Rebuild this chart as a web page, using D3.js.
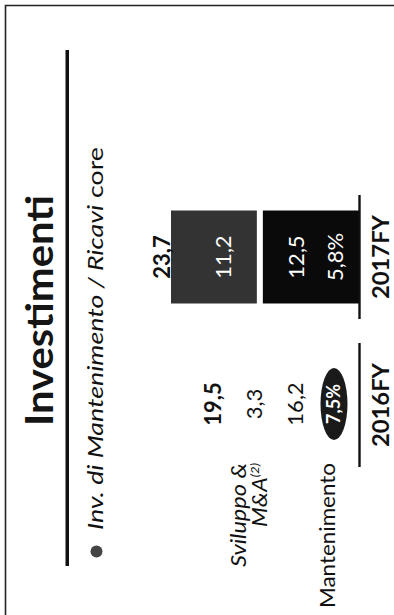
<!DOCTYPE html>
<html><head><meta charset="utf-8">
<script src="https://cdn.jsdelivr.net/npm/d3@7"></script>
<style>html,body{margin:0;padding:0;background:#fff;} svg{display:block;}</style>
</head><body>
<script>
// ---- data ----
const categories = ["2016FY", "2017FY"];
const mantenimento = [16.2, 12.5];
const sviluppo = [3.3, 11.2];
const totals = [19.5, 23.7];
const mantPct = ["7,5%", "5,8%"];
const seriesLabels = ["Mantenimento", "Sviluppo &", "M&A"];
const titleText = "Investimenti";
const subtitleItalic = "Inv. di Mantenimento / Ricavi";
const subtitleNormal = " core";

// ---- setup ----
const W = 394, H = 615;
const FONT = "Lato, 'Open Sans', sans-serif";
const fmt = d3.formatLocale({decimal: ",", thousands: ".", grouping: [3], currency: ["", ""]}).format(".1f");
const svg = d3.select("body").append("svg").attr("width", W).attr("height", H)
  .style("font-family", FONT);

// frame
svg.append("path").attr("d", `M5.5,${H} V5.5 H${W}`).attr("fill", "none")
  .attr("stroke", "#222").attr("stroke-width", 1.6);

// rotated text helper: glyphs extend to the left of baseline x
function rtext(x, y, txt, opts = {}) {
  const t = svg.append("text")
    .attr("transform", `translate(${x},${y}) rotate(-90)`)
    .attr("font-size", opts.size || 20)
    .attr("font-weight", opts.weight || "normal")
    .attr("font-style", opts.style || "normal")
    .attr("fill", opts.fill || "#111")
    .attr("text-anchor", opts.anchor || "middle");
  if (opts.len) t.attr("textLength", opts.len).attr("lengthAdjust", "spacingAndGlyphs");
  if (txt !== null) t.text(txt);
  return t;
}
const capOff = s => 0.36 * s; // center -> baseline offset

// title + rule
rtext(53, 426, titleText, {size: 38, weight: "bold", anchor: "start", len: 231, fill: "#151515"});
svg.append("rect").attr("x", 65.5).attr("y", 50).attr("width", 3.5).attr("height", 516).attr("fill", "#111");

// subtitle with bullet
svg.append("circle").attr("cx", 96.5).attr("cy", 551.5).attr("r", 6).attr("fill", "#444");
const st = rtext(103, 530, null, {size: 21, anchor: "start", len: 383});
st.append("tspan").attr("font-style", "italic").text(subtitleItalic);
st.append("tspan").text(subtitleNormal);

// scales
const yC = d3.scalePoint().domain(categories.slice().reverse()).range([257, 405]);
const xV = d3.scaleLinear().domain([0, d3.max(totals)]).range([359, 171]);
const barHalf = 46.5, axisHalf = 62, gap = 6;

const rows = categories.map((c, i) => ({cat: c, mant: mantenimento[i], svil: sviluppo[i]}));
const stack = d3.stack().keys(["mant", "svil"])(rows);
// 2016 column is washed out (white) in the source
const fills = {
  "2016FY": {mant: "#ffffff", svil: "#ffffff"},
  "2017FY": {mant: "#0a0a0a", svil: "#333333"}
};

stack.forEach(layer => {
  svg.append("g").selectAll("rect").data(layer).join("rect")
    .attr("y", d => yC(d.data.cat) - barHalf)
    .attr("height", barHalf * 2)
    .attr("x", d => xV(d[1]) + (layer.key === "mant" ? gap / 2 : 0))
    .attr("width", d => (xV(d[0]) - (d[0] > 0 ? gap / 2 : 0)) - (xV(d[1]) + (layer.key === "mant" ? gap / 2 : 0)))
    .attr("fill", d => fills[d.data.cat][layer.key]);
});

// baseline segments
svg.append("g").selectAll("line").data(categories).join("line")
  .attr("x1", xV(0) + 0.5).attr("x2", xV(0) + 0.5)
  .attr("y1", d => yC(d) - axisHalf).attr("y2", d => yC(d) + axisHalf)
  .attr("stroke", "#111").attr("stroke-width", 2.4);

// category labels
categories.forEach(c => {
  rtext(389, yC(c), c, {size: 23, weight: "bold", len: 84});
});

// value labels
const vs = 22;
categories.forEach((c, i) => {
  const y = yC(c) + (c === "2016FY" ? -1 : 0);
  const base = xV(0);
  if (c === "2017FY") {
    const sv = (xV(rows[i].mant) + xV(totals[i])) / 2 + 8;
    rtext(sv + capOff(vs), y, fmt(sviluppo[i]), {size: vs, fill: "#fff"});
    rtext(base - 63 + capOff(vs), y, fmt(mantenimento[i]), {size: vs, fill: "#fff"});
    rtext(base - 24 + capOff(vs), y, mantPct[i], {size: vs, fill: "#fff"});
    rtext(xV(totals[i]) - 9 + capOff(vs), y, fmt(totals[i]), {size: vs, weight: "bold"});
  } else {
    svg.append("ellipse").attr("cx", base - 25).attr("cy", y).attr("rx", 13.5).attr("ry", 36).attr("fill", "#1a1a1a");
    rtext(base - 25 + capOff(18), y, mantPct[i], {size: 18, fill: "#fff", weight: "bold"});
    rtext(base - 64 + capOff(vs), y, fmt(mantenimento[i]), {size: vs});
    rtext(base - 105 + capOff(vs), y, fmt(sviluppo[i]), {size: vs});
    rtext(base - 146 + capOff(vs), y, fmt(totals[i]), {size: vs, weight: "bold"});
  }
});

// series legend (left of 2016 column)
const lgEnd = yC("2016FY") + 58;
rtext(246, lgEnd, seriesLabels[1], {size: 21, style: "italic", anchor: "end", len: 104});
const l2 = rtext(267, lgEnd, null, {size: 21, style: "italic", anchor: "end", len: 64});
l2.append("tspan").text(seriesLabels[2]);
l2.append("tspan").attr("font-size", 12).attr("dy", -8).text("(2)");
rtext(335, lgEnd, seriesLabels[0], {size: 21, anchor: "end", len: 145});
</script>
</body></html>
